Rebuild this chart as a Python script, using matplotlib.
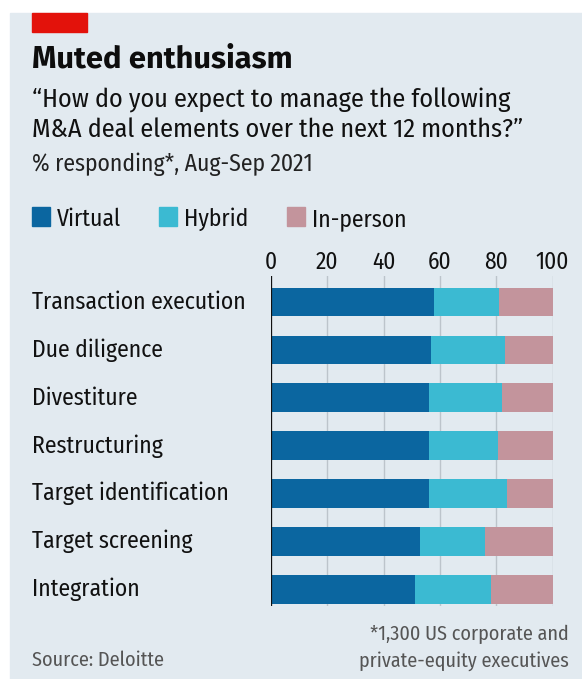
import matplotlib
matplotlib.use("Agg")
import matplotlib.pyplot as plt
import matplotlib.transforms as mtransforms
from matplotlib.patches import Rectangle
import numpy as np

# data, % responding
categories = ["Transaction execution", "Due diligence", "Divestiture", "Restructuring",
              "Target identification", "Target screening", "Integration"]
virtual = [58, 57, 56, 56, 56, 53, 51]
hybrid = [23, 26, 26, 24.5, 28, 23, 27]
in_person = [19, 17, 18, 19.5, 16, 24, 22]
series_names = ["Virtual", "Hybrid", "In-person"]
xticks = [0, 20, 40, 60, 80, 100]

colors = ["#0b66a0", "#3bbad2", "#c3949c"]
bg = "#e2eaf0"
COND = ["Fira Sans Condensed", "Roboto Condensed", "DejaVu Sans"]
BOLD = ["Fira Sans", "Roboto", "DejaVu Sans"]

W, H = 582, 679
fig = plt.figure(figsize=(W / 100, H / 100), dpi=100)
fig.patch.set_facecolor("white")


def px(x, y):
    # pixel coords from top-left -> figure fraction
    return x / W, 1 - y / H


# panel + red tag
fig.patches.append(Rectangle(px(10, 679), (W - 10) / W, (679 - 13) / H,
                             transform=fig.transFigure, color=bg, zorder=-5))
fig.patches.append(Rectangle(px(32, 32), 55 / W, 19 / H,
                             transform=fig.transFigure, color="#e3120b", zorder=1))

fig.text(*px(32, 67), "Muted enthusiasm", family=BOLD, weight="bold",
         fontsize=22.3, color="#0d0d0d", va="baseline")
fig.text(*px(32, 108), "\u201cHow do you expect to manage the following",
         family=COND, fontsize=18.8, color="#111111", va="baseline")
fig.text(*px(32, 137), "M&A deal elements over the next 12 months?\u201d",
         family=COND, fontsize=18.8, color="#111111", va="baseline")
fig.text(*px(32, 171), "% responding*, Aug-Sep 2021",
         family=COND, fontsize=17, color="#222222", va="baseline")

# legend
leg_x = [32, 159, 287]
for lx, name, c in zip(leg_x, series_names, colors):
    fig.patches.append(Rectangle(px(lx, 226), 18 / W, 19 / H,
                                 transform=fig.transFigure, color=c, zorder=1))
    fig.text(*px(lx + 25, 226), name, family=COND, fontsize=17,
             color="#111111", va="baseline")

# bars
ax = fig.add_axes([271 / W, 1 - 606 / H, 281.5 / W, 330 / H])
ax.set_facecolor("none")
y = np.arange(len(categories))
left = np.zeros(len(categories))
for vals, c in zip([virtual, hybrid, in_person], colors):
    ax.barh(y, vals, left=left, height=0.6, color=c, zorder=2)
    left = left + np.array(vals)

ax.set_xlim(0, 100)
ax.set_ylim(len(categories) - 1 + 0.344, -0.543)
ax.set_xticks(xticks)
ax.xaxis.tick_top()
ax.tick_params(axis="x", length=0, pad=1.5, labelsize=16.8, labelcolor="#111111")
for lab in ax.get_xticklabels():
    lab.set_family(COND)
ax.set_yticks([])
for s in ax.spines.values():
    s.set_visible(False)
ax.grid(axis="x", color="#bcc4cb", linewidth=1, zorder=1)
ax.axvline(0, color="#111111", linewidth=1.6, zorder=3)

trans = mtransforms.blended_transform_factory(fig.transFigure, ax.transData)
for yi, cat in zip(y, categories):
    ax.text(32 / W, yi, cat, transform=trans, family=COND, fontsize=17,
            color="#111111", va="center", ha="left")

# footer
fig.text(*px(32, 666), "Source: Deloitte", family=COND, fontsize=14.5,
         color="#555555", va="baseline")
fig.text(*px(569, 640), "*1,300 US corporate and", family=COND, fontsize=14.5,
         color="#555555", va="baseline", ha="right")
fig.text(*px(569, 667), "private-equity executives", family=COND, fontsize=14.5,
         color="#555555", va="baseline", ha="right")

fig.savefig("out.png", dpi=100, facecolor=fig.get_facecolor())
